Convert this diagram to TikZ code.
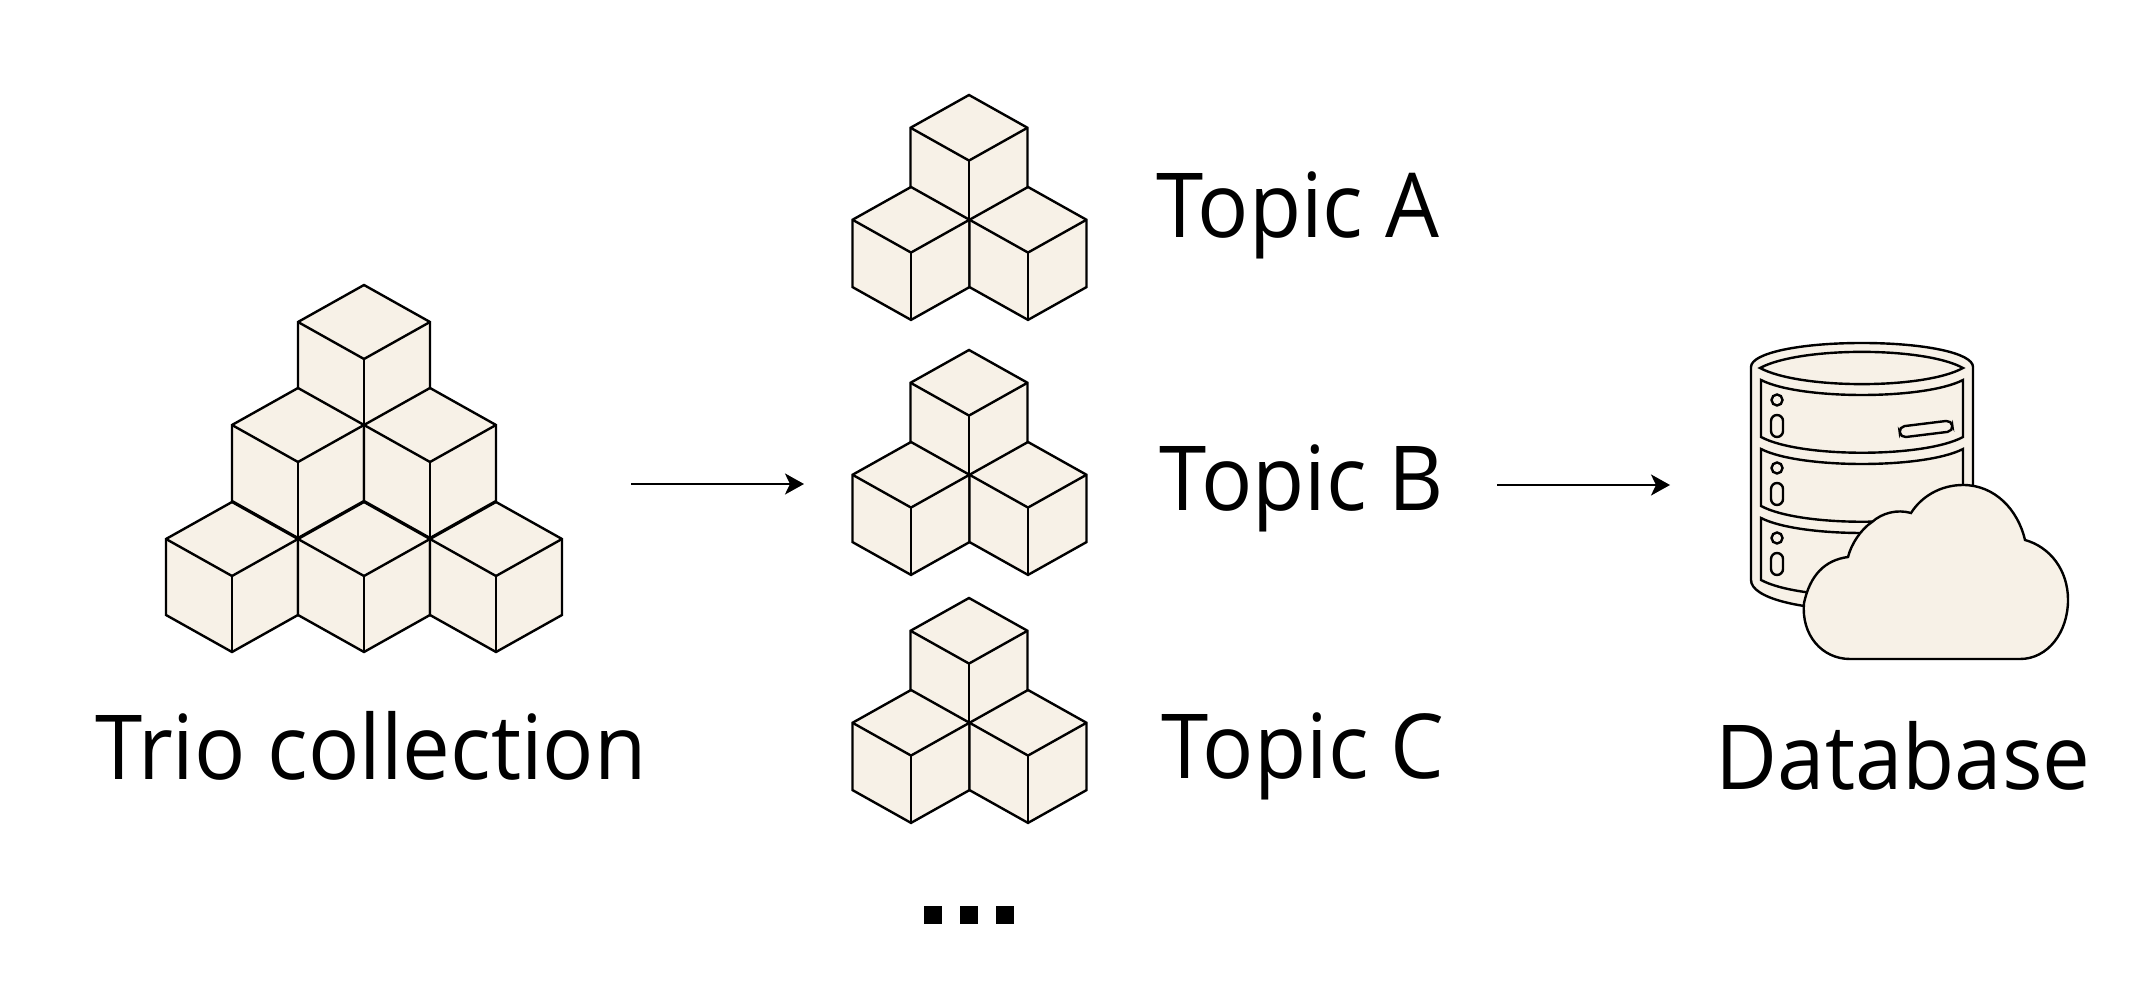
\documentclass[tikz,border=0pt]{standalone}
\usepackage{fontspec}
\setmainfont[FakeStretch=0.95]{Open Sans}
\usetikzlibrary{arrows.meta}
\definecolor{cubefill}{HTML}{F7F1E7}
\tikzset{
	cubeline/.style={fill=cubefill,draw=black,line width=0.024cm,line join=miter},
	iconline/.style={draw=black,line width=0.024cm},
	biglabel/.style={font=\fontsize{25.5}{30}\selectfont,anchor=base,inner sep=0pt}
}
\begin{document}
\begin{tikzpicture}[>={Stealth[length=0.19cm,width=0.21cm,inset=0.05cm]},x=0.01cm,y=-0.01cm]

\useasboundingbox (0,0) rectangle (2140,992);

\def\cube#1#2#3{
\begin{scope}[shift={(#1,#2)},scale=#3]
\filldraw[cubeline] (0,0)--(66,37)--(66,113)--(0,150)--(-66,113)--(-66,37)--cycle;
\draw[cubeline,fill=none] (-66,37)--(0,74)--(66,37);
\draw[cubeline,fill=none] (0,74)--(0,150);
\end{scope}
}
\def\trio#1{
\cube{969}{#1}{0.886}
\cube{911}{#1+92}{0.886}
\cube{1028}{#1+92}{0.886}
}

% collection
\cube{364}{285}{1}
\cube{298}{388}{1}
\cube{430}{388}{1}
\cube{232}{502}{1}
\cube{364}{502}{1}
\cube{496}{502}{1}
\node[biglabel] (collection) at (371,779) {Trio collection};

% topics
\trio{95}
\trio{350}
\trio{598}
\node[biglabel] (topica) at (1298,238) {Topic A};
\node[biglabel] (topicb) at (1302,511) {Topic B};
\node[biglabel] (topicc) at (1303,778) {Topic C};
\foreach \x in {924,960,996}{
	\fill (\x,906) rectangle (\x+18,924);
}

% database
\filldraw[cubeline,iconline] (1751,367) .. controls (1751,353) and (1800,343) .. (1862,343)
	.. controls (1924,343) and (1973,353) .. (1973,367) -- (1973,580)
	.. controls (1973,595) and (1924,610) .. (1862,610)
	.. controls (1800,610) and (1751,598) .. (1751,580) -- cycle;
\draw[iconline] (1760,368) .. controls (1800,346.5) and (1924,346.5) .. (1963,368)
	.. controls (1924,389.5) and (1800,389.5) .. cycle;
\foreach \y/\h in {380/57,449/57,518/62}{
	\draw[iconline] (1761,\y) .. controls (1800,\y+20) and (1924,\y+20) .. (1963,\y) -- (1963,\y+\h)
		.. controls (1924,\y+\h+21) and (1800,\y+\h+21) .. (1761,\y+\h) -- cycle;
}
\foreach \y in {400,468,538}{
	\draw[iconline] (1777,\y) circle (0.055cm);
	\draw[iconline,rounded corners=0.06cm] (1771,\y+15) rectangle (1783,\y+37);
}
\draw[iconline,rounded corners=0.055cm,rotate around={7:(1926,429)}] (1899.5,423.5) rectangle (1952.5,434.5);
\filldraw[cubeline,iconline] (1804,603) .. controls (1801,635) and (1822,659) .. (1850,659) -- (2020,659)
	.. controls (2048,659) and (2068,632) .. (2068,600)
	.. controls (2068,570) and (2050,547) .. (2025,540)
	.. controls (2018,510) and (1995,485) .. (1963,485)
	.. controls (1940,485) and (1921,497) .. (1911,513)
	.. controls (1897,509) and (1882,513) .. (1872,522)
	.. controls (1860,530) and (1851,545) .. (1848,557)
	.. controls (1825,560) and (1810,575) .. (1804,603) -- cycle;
\node[biglabel] (database) at (1903,789) {Database};

% arrows
\coordinate (arrowa) at (631,484);
\coordinate (arrowb) at (804,484);
\coordinate (arrowc) at (1497,485);
\coordinate (arrowd) at (1670,485);
\draw[->,line width=0.024cm] (arrowa)--(arrowb);
\draw[->,line width=0.024cm] (arrowc)--(arrowd);

\end{tikzpicture}
\end{document}
